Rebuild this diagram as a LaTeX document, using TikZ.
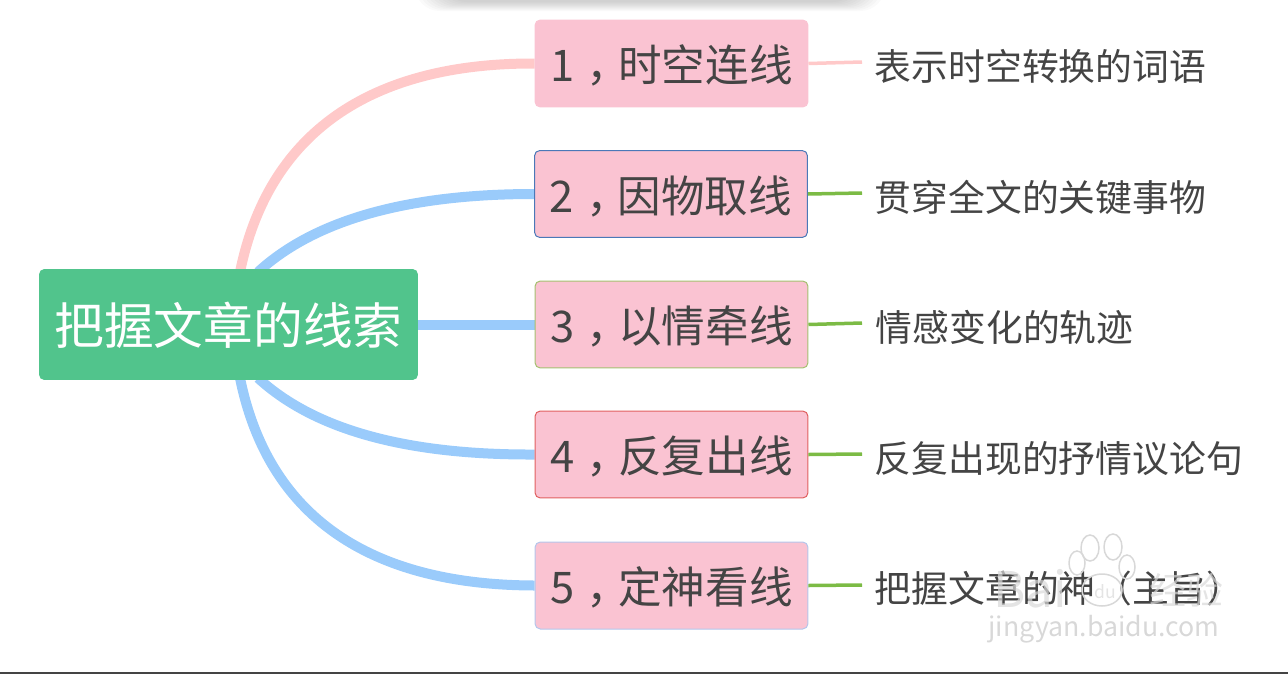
\documentclass[tikz,border=0pt]{standalone}
\usepackage{fontspec}
\setmainfont{Noto Sans CJK SC}
\usetikzlibrary{backgrounds}
\definecolor{rootgreen}{HTML}{51C48C}
\definecolor{boxpink}{HTML}{FAC3D2}
\definecolor{linkpink}{HTML}{FFC9C9}
\definecolor{linkblue}{HTML}{9ACBFB}
\definecolor{leafgreen}{HTML}{7CBB45}
\definecolor{inkgray}{HTML}{444444}
\definecolor{markgray}{HTML}{D8D8D8}
\definecolor{edgeblue}{HTML}{4A78B8}
\definecolor{edgegreen}{HTML}{A5C070}
\definecolor{edgered}{HTML}{E06060}
\definecolor{edgesky}{HTML}{B4C6EC}
\newcommand{\midcomma}{\kern.28em，\kern-.28em}
\tikzset{
	rootbox/.style={fill=rootgreen, rounded corners=3, minimum width=7.58cm, minimum height=2.22cm, text=white, text height=25pt, text depth=2.6pt, font=\fontsize{28.3}{32}\selectfont},
	linebox/.style={fill=boxpink, rounded corners=3, line width=0.2mm, minimum width=5.46cm, minimum height=1.74cm, text=inkgray, text height=22.5pt, text depth=1.5pt, font=\fontsize{24.8}{28}\selectfont},
	leaftext/.style={anchor=west, inner sep=0, text=inkgray, font=\fontsize{20.95}{24}\selectfont},
	branch/.style={line width=0.2cm},
	twig/.style={line width=0.07cm}
}
\begin{document}
\begin{tikzpicture}[x=0.02cm, y=-0.02cm]
			%%%%% START %%%%%
			\useasboundingbox (0, 0) rectangle (1288, 673);
			
			\node[rootbox] (root) at (228.5, 324.5) {把握文章的线索};
			
			\node[linebox, draw=boxpink] (time) at (671.5, 63.5) {1\midcomma 时空连线};
			\node[linebox, draw=edgeblue] (thing) at (671, 194) {2\midcomma 因物取线};
			\node[linebox, draw=edgegreen] (feel) at (671.5, 324.5) {3\midcomma 以情牵线};
			\node[linebox, draw=edgered] (again) at (671.5, 454.5) {4\midcomma 反复出线};
			\node[linebox, draw=edgesky] (god) at (671.5, 585.5) {5\midcomma 定神看线};
			
			\node[leaftext] (timetext) at (874.5, 66.5) {表示时空转换的词语};
			\node[leaftext] (thingtext) at (874.5, 197.5) {贯穿全文的关键事物};
			\node[leaftext] (feeltext) at (875.5, 327.5) {情感变化的轨迹};
			\node[leaftext] (againtext) at (874.5, 458.5) {反复出现的抒情议论句};
			\node[leaftext] (godtext) at (874.5, 588.5) {把握文章的神（主旨）};
			
			\coordinate (upa) at (240, 272);
			\coordinate (upb) at (258, 272);
			\coordinate (downa) at (240, 378);
			\coordinate (downb) at (258, 378);
			
			\begin{scope}[on background layer]
				\foreach \i in {0,...,9}
					\fill[black, opacity=0.02, rounded corners=14] (415+3*\i, -30) rectangle (885-3*\i, 11-\i);
				\draw[branch, linkpink] (upa) .. controls (270, 125) and (380, 63) .. (time.west);
				\draw[branch, linkblue] (upb) .. controls (320, 215) and (420, 194) .. (thing.west);
				\draw[branch, linkblue] (root.east) -- (feel.west);
				\draw[branch, linkblue] (downb) .. controls (320, 435) and (420, 455) .. (again.west);
				\draw[branch, linkblue] (downa) .. controls (270, 525) and (380, 585) .. (god.west);
			\end{scope}
			
			\draw[twig, linkpink] (time.east) -- (862, 62);
			\draw[twig, leafgreen] (thing.east) -- (862, 193);
			\draw[twig, leafgreen] (feel.east) -- (862, 323);
			\draw[twig, leafgreen] (again.east) -- (862, 454);
			\draw[twig, leafgreen] (god.east) -- (862, 585);
			
			% watermark
			\node[text=markgray, font=\fontsize{15.2}{16}\selectfont] (site) at (1104, 629) {jingyan.baidu.com};
			\node[text=markgray, opacity=0.7, font=\fontsize{28}{30}\selectfont] (bai) at (1030, 589) {Bai};
			\node[text=markgray, opacity=0.7, font=\fontsize{10}{12}\selectfont] (du) at (1105, 592) {du};
			\node[text=markgray, opacity=0.7, font=\fontsize{21}{24}\selectfont] (exp) at (1186, 590) {经验};
			\begin{scope}[draw=markgray, line width=0.3mm]
				\draw (1090, 548) circle (9 and 13);
				\draw (1113, 547) circle (9 and 13);
				\draw (1077, 563) circle (8 and 12);
				\draw (1127, 567) circle (8 and 12);
				\draw (1102, 590) circle (20 and 16);
			\end{scope}
			
			\draw[line width=0.04cm, inkgray] (0, 672.5) -- (1288, 672.5);
			%%%%% END %%%%%
		\end{tikzpicture}
\end{document}
